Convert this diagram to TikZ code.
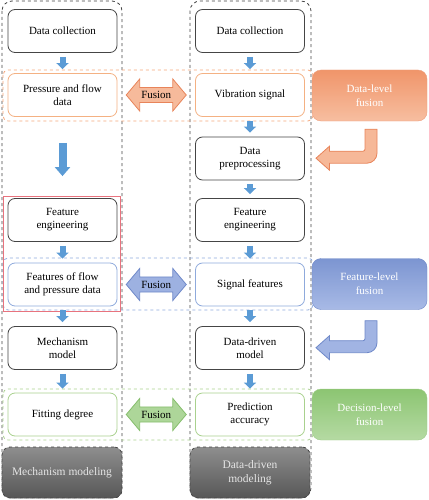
\documentclass[tikz,border=0pt]{standalone}
\usepackage{fontspec}
\setmainfont{Liberation Serif}
\usetikzlibrary{shapes.arrows,arrows.meta,calc}
\definecolor{dkline}{HTML}{454545}
\definecolor{orline}{HTML}{F4B183}
\definecolor{orband}{HTML}{F4A67A}
\definecolor{ortop}{HTML}{F0956A}
\definecolor{orbot}{HTML}{F7BEA0}
\definecolor{ordark}{HTML}{E8845A}
\definecolor{blline}{HTML}{8FAADC}
\definecolor{bltop}{HTML}{7C95D1}
\definecolor{blbot}{HTML}{A8BAE6}
\definecolor{bldark}{HTML}{6F89C9}
\definecolor{grline}{HTML}{A9D18E}
\definecolor{grtop}{HTML}{8CC572}
\definecolor{grbot}{HTML}{B5DAA3}
\definecolor{grdark}{HTML}{86BE6C}
\definecolor{flowblue}{HTML}{5B9BD5}
\definecolor{redframe}{HTML}{E8737E}
\definecolor{mtop}{HTML}{8E8E8E}
\definecolor{mbot}{HTML}{575757}
\begin{document}
\begin{tikzpicture}[x=1pt,y=-1pt,font=\fontsize{11}{13}\selectfont]
        \tikzset{
            box/.style={draw=dkline, line width=0.8pt, rounded corners=7pt, fill=white,
            minimum width=109pt, minimum height=43pt, align=center},
            obox/.style={box, draw=orline},
            bbox/.style={box, draw=blline},
            gbox/.style={box, draw=grline},
            mbox/.style={draw=dkline, dashed, line width=0.8pt, rounded corners=8pt,
            top color=mtop, bottom color=mbot, text=white!90!black,
            minimum width=120pt, minimum height=51pt, align=center, font=\fontsize{11.5}{14}\selectfont},
            fbox/.style={rounded corners=9pt, minimum width=115pt, minimum height=51pt,
            align=center, text=white, font=\fontsize{11}{14}\selectfont},
            fuse/.style={double arrow, double arrow head extend=8pt, double arrow tip angle=100,
            minimum height=60pt, minimum width=32pt, inner xsep=0pt, inner ysep=3pt, line width=0.8pt,
            font=\fontsize{11}{12}\selectfont},
            col/.style={dashed, draw=dkline, line width=0.8pt, rounded corners=10pt},
            band/.style={dashed, line width=0.8pt, rounded corners=5pt},
            dn/.style={-{Triangle[width=12pt,length=6pt]}, line width=6pt, flowblue,
            shorten <=4pt, shorten >=4pt}
            }

            \useasboundingbox (0,0) rectangle (428,500);

            % two columns and fusion bands
            \draw[col] (2,1) rectangle (122,498);
            \draw[col] (190,1) rectangle (311,498);
            \draw[band, draw=orband] (3,70) rectangle (313,121);
            \draw[band, draw=blline] (3,258) rectangle (313,310);
            \draw[band, draw=grline] (3,389) rectangle (313,440);

            % mechanism side
            \node[box] (l1) at (62.5,31) {Data collection};
            \node[obox] (l2) at (62.5,95) {Pressure and flow\\data};
            \node[box] (l4) at (62.5,220) {Feature\\engineering};
            \node[bbox] (l5) at (62.5,284.5) {Features of flow\\and pressure data};
            \node[box] (l6) at (62.5,348) {Mechanism\\model};
            \node[gbox] (l7) at (62.5,414.5) {Fitting degree};
            \node[mbox] (l8) at (62,472.5) {Mechanism modeling};
            \draw[redframe, line width=0.8pt] (3,196.5) rectangle (120,311);

            % data-driven side
            \node[box] (r1) at (250,31) {Data collection};
            \node[obox] (r2) at (250,95) {Vibration signal};
            \node[box] (r3) at (250,158.5) {Data\\preprocessing};
            \node[box] (r4) at (250,220) {Feature\\engineering};
            \node[bbox] (r5) at (250,284.5) {Signal features};
            \node[box] (r6) at (250,348) {Data-driven\\model};
            \node[gbox] (r7) at (250,414.5) {Prediction\\accuracy};
            \node[mbox] (r8) at (250,472.5) {Data-driven\\modeling};

            % fusion levels
            \node[fbox, top color=ortop, bottom color=orbot, draw=ordark!80] (dlf) at (369.5,95.5) {Data-level\\fusion};
            \node[fbox, top color=bltop, bottom color=blbot, draw=bldark] (flf) at (369.5,284) {Feature-level\\fusion};
            \node[fbox, top color=grtop, bottom color=grbot, draw=grdark!80] (clf) at (369.5,414.5) {Decision-level\\fusion};

            \node[fuse, fill=orbot!90!ortop, draw=ordark] (fu1) at ($(l2.east)!0.5!(r2.west)$) {Fusion};
            \node[fuse, fill=blbot!75!bltop, draw=bldark] (fu2) at ($(l5.east)!0.5!(r5.west)$) {Fusion};
            \node[fuse, fill=grbot!80!grtop, draw=grdark] (fu3) at ($(l7.east)!0.5!(r7.west)$) {Fusion};

            % flow arrows
            \draw[dn] (l1) -- (l2);
            \draw[dn, line width=8pt, -{Triangle[width=15pt,length=9pt]}, shorten <=26pt, shorten >=22pt] (l2) -- (l4);
            \draw[dn] (l4) -- (l5);
            \draw[dn] (l5) -- (l6);
            \draw[dn] (l6) -- (l7);
            \draw[dn] (r1) -- (r2);
            \draw[dn] (r2) -- (r3);
            \draw[dn] (r3) -- (r4);
            \draw[dn] (r4) -- (r5);
            \draw[dn] (r5) -- (r6);
            \draw[dn] (r6) -- (r7);

            % bent arrows from fusion boxes
            \begin{scope}[shift={(dlf.south)}]
            \filldraw[fill=orbot!85!ortop, draw=ordark, line width=0.8pt] (7.5,8) -- (7.5,32) arc[start angle=0,end angle=90,radius=10]
                -- (-40,42) -- (-40,49) -- (-53.5,37) -- (-40,25) -- (-40,30) -- (-6.5,30)
                arc[start angle=90,end angle=0,radius=2] -- (-4.5,8) -- cycle;
            \end{scope}
            \begin{scope}[shift={(flf.south)}]
            \filldraw[fill=blbot!85!bltop, draw=bldark, line width=0.8pt] (7.5,11) -- (7.5,33) arc[start angle=0,end angle=90,radius=10]
                -- (-40,43) -- (-40,50) -- (-53.5,38) -- (-40,26) -- (-40,31) -- (-6.5,31)
                arc[start angle=90,end angle=0,radius=2] -- (-4.5,11) -- cycle;
            \end{scope}
        \end{tikzpicture}
\end{document}
